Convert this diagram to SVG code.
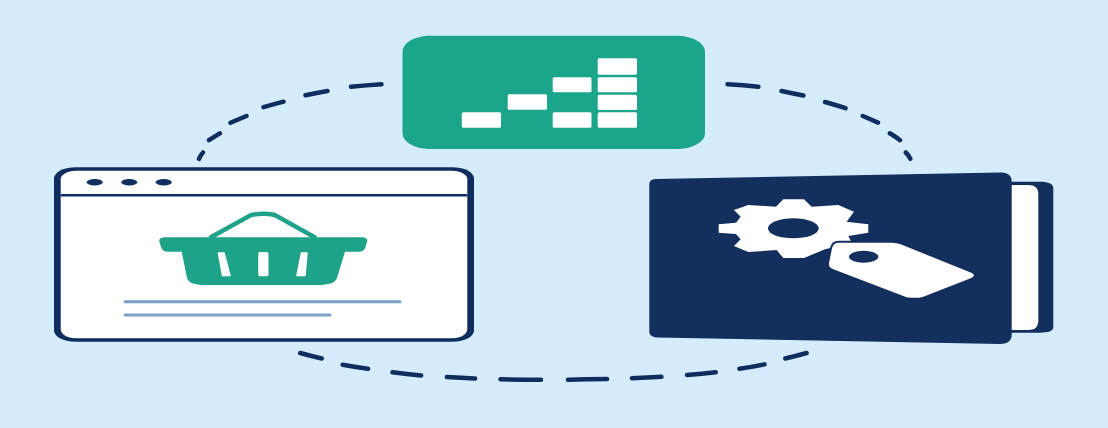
<svg xmlns="http://www.w3.org/2000/svg" width="1108" height="428" viewBox="0 0 1108 428">
<style>
.dash{fill:none;stroke:#0f2d5e;stroke-width:4.500;stroke-linecap:round}
.navy{fill:#132f5d}
.line{fill:#0f2d5e}
.white{fill:#fff}
.green{fill:#1ba68c}
.basket{fill:#1fa388}
.rule{stroke:#7ba2c4;stroke-width:3;stroke-linecap:round;fill:none}
</style>
<rect width="1108" height="428" fill="#d4ecfb"/>
<g id="connectors" class="dash">
<path d="M381.500 84.300Q366 85.300 351 86.800M327.500 91Q316 93 305.500 95.300M283.500 101.700Q273 104.500 263.500 107.200M246.500 116Q238 119.500 230.500 122.800M219.800 133.300Q214 137 209 140.200M203 152.500Q200.500 155 199 158.800"/>
<path d="M727.500 84.200Q743 85 758.400 86.800M781.500 91Q793 93.500 803.400 95.500M825 102Q836 105 845.500 108.200M862.800 116Q871 119.500 878 122.600M889.800 133.300Q896 137 900 140.200M905.800 152.500Q908.500 155 910.300 158.800"/>
<path d="M300.200 353Q311 356 321.800 358.500M342.700 364.700Q355 367 368.100 368.700M392.500 372.300Q407 374.200 421.100 375.500M446.900 377.100Q461 378 475.100 378.600M500.500 379.300Q520 379.700 541 379.700M567.900 379.700Q587 379.500 607 379.100M632 378.200Q647 377.700 661.400 376.800M687.100 375.100Q702 374 715.700 372.300M739.400 368.700Q752 367 764.500 364.400M785.300 358.500Q796 356 806.600 353"/>
</g>
<g id="node-analytics">
<path class="green" d="M432 35.700H675C695 35.700 705 44 705 52V133C705 141 695 149 675 149H432C412 149 402.500 141 402.500 133V52C402.500 44 412 35.700 432 35.700Z"/>
<g class="white">
<rect x="461.800" y="112.300" width="39.200" height="15.400" rx="1.500"/>
<rect x="507.700" y="94.300" width="39.300" height="15.400" rx="1.500"/>
<rect x="552.700" y="77.300" width="38.800" height="15" rx="1.500"/>
<rect x="552.700" y="112.300" width="38.800" height="15.400" rx="1.500"/>
<rect x="597.700" y="58.300" width="39.300" height="16.400" rx="1.500"/>
<rect x="597.700" y="77.300" width="39.300" height="15" rx="1.500"/>
<rect x="597.700" y="94.700" width="39.300" height="15.300" rx="1.500"/>
<rect x="597.700" y="112.300" width="39.300" height="15.400" rx="1.500"/>
</g>
</g>
<g id="node-shop">
<path class="line" d="M76 167.300H452C466 167.300 474 173 474 178.500V330.500C474 336 466 341.700 452 341.700H76C62 341.700 54 336 54 330.500V178.500C54 173 62 167.300 76 167.300Z"/>
<path class="white" d="M76 170.700H452C461 170.700 467.300 175 467.300 179V329C467.300 334 461 338.300 452 338.300H76C67 338.300 60.700 334 60.700 329V179C60.700 175 67 170.700 76 170.700Z"/>
<path d="M60.700 195.300H467.300" stroke="#0f2d5e" stroke-width="2.500" fill="none"/>
<ellipse class="line" cx="94.700" cy="182.300" rx="8" ry="3.200"/>
<ellipse class="line" cx="129.300" cy="182.300" rx="8" ry="3.200"/>
<ellipse class="line" cx="163.700" cy="182.300" rx="8" ry="3.200"/>
<path d="M209.500 238L251 215Q256 213.800 263 213.800Q270 213.800 275 215L316 238" fill="none" stroke="#1fa388" stroke-width="4.500"/>
<path class="basket" d="M165 237.300H361C365.500 237.300 367.800 239 367.300 241L365.500 247C364.500 250.500 362 251.700 358 251.700H345L337 278C335 283 329 285 318 285H205C194 285 189 283 187 278L181.700 251.700H168C164 251.700 162 250 161 247L159.200 241C158.800 239 161 237.300 165 237.300Z"/>
<g class="white" stroke="#fff" stroke-width="1.500" stroke-linejoin="round">
<path d="M218.500 253H224L230 275.500H222.500Z"/>
<rect x="259" y="252.700" width="8.700" height="22.800" rx="1"/>
<path d="M301.500 253H307L305 275.500H297Z"/>
</g>
<path class="rule" d="M125 301.700H400"/>
<path class="rule" d="M125 315H330"/>
</g>
<g id="node-catalog">
<path class="navy" d="M1005 181.700H1040C1049 181.700 1053.300 184 1053.300 188V327C1053.300 331 1049 332.700 1040 332.700H1005Z"/>
<path class="white" d="M1005 185H1028C1035 185 1038.300 188 1038.300 194V320C1038.300 327 1035 330 1028 330H1005Z"/>
<path class="navy" d="M656 179L1000 172.500C1007 172.500 1011.700 175 1011.700 181V335C1011.700 341 1007 344 1000 344L657 337.500C651.500 337 649.300 335 649.300 331V185C649.300 181 651 179.300 656 179Z"/>
<g transform="translate(630 160) scale(.3333)">
<path class="white" d="M460 118H522L545 140L625 135L672 155L650 185L715 193V218L655 228L672 262L640 255L585 268L522 294H460L440 270L355 276L312 258L332 238L318 222L266 218V193L318 188L332 170L312 150L355 135L438 140Z"/>
<ellipse class="navy" cx="490" cy="205" rx="76" ry="30"/>
<path class="white" stroke="#132f5d" stroke-width="12" paint-order="stroke" stroke-linejoin="round" d="M625 248H785Q800 248 812 253L1024 338Q1040 346 1024 354L880 410Q860 416 830 412L610 328Q595 322 597 310L606 265Q610 248 625 248Z"/>
<ellipse class="navy" cx="701" cy="290" rx="44" ry="18"/>
</g>
</g>
</svg>
